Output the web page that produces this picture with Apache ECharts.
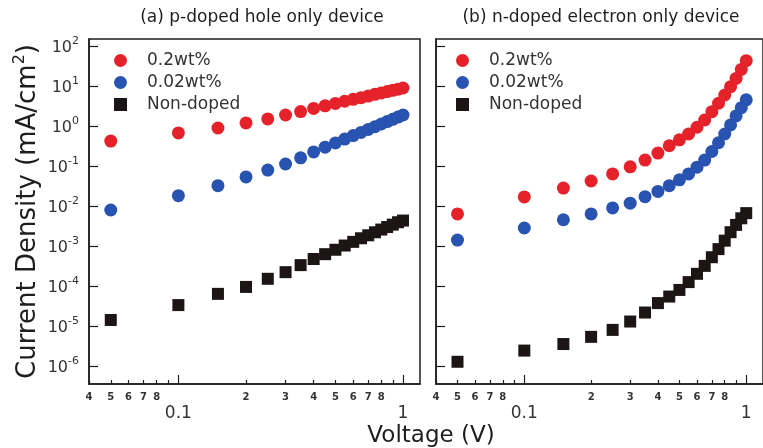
<!DOCTYPE html>
<html>
<head>
<meta charset="utf-8">
<script src="https://cdn.jsdelivr.net/npm/echarts@6/dist/echarts.min.js"></script>
<style>
html, body { margin: 0; padding: 0; background: #fff; }
#chart { width: 763px; height: 448px; }
</style>
</head>
<body>
<div id="chart"></div>
<script>
// 电压 (V)
var voltage = [0.05, 0.10, 0.15, 0.20, 0.25, 0.30, 0.35, 0.40, 0.45, 0.50,
               0.55, 0.60, 0.65, 0.70, 0.75, 0.80, 0.85, 0.90, 0.95, 1.00];

// (a) hole only device, mA/cm2
var holeHigh = [0.42, 0.67, 0.89, 1.19, 1.5, 1.88, 2.29, 2.75, 3.2, 3.67,
                4.15, 4.65, 5.1, 5.6, 6.2, 6.7, 7.25, 7.8, 8.3, 8.9];
var holeLow = [0.0079, 0.018, 0.032, 0.053, 0.079, 0.112, 0.16, 0.224, 0.295, 0.376,
               0.47, 0.575, 0.69, 0.82, 0.96, 1.12, 1.29, 1.47, 1.67, 1.88];
var holeUndoped = [1.4e-5, 3.3e-5, 6.3e-5, 9.4e-5, 1.5e-4, 2.2e-4, 3.3e-4, 4.7e-4, 6.2e-4, 8.0e-4,
                   1.02e-3, 1.26e-3, 1.55e-3, 1.84e-3, 2.19e-3, 2.56e-3, 2.96e-3, 3.4e-3, 3.9e-3, 4.3e-3];

// (b) electron only device, mA/cm2
var elecHigh = [0.0063, 0.0168, 0.028, 0.042, 0.063, 0.095, 0.14, 0.21, 0.32, 0.45,
                0.63, 0.93, 1.41, 2.28, 3.7, 5.96, 9.6, 15.5, 26, 43];
var elecLow = [0.0014, 0.0028, 0.0045, 0.0063, 0.0089, 0.0117, 0.017, 0.023, 0.032, 0.045,
               0.063, 0.093, 0.14, 0.23, 0.38, 0.63, 1.06, 1.78, 2.87, 4.5];
var elecUndoped = [1.26e-6, 2.4e-6, 3.5e-6, 5.3e-6, 7.9e-6, 1.28e-5, 2.15e-5, 3.7e-5, 5.4e-5, 7.9e-5,
                   1.24e-4, 2.0e-4, 3.16e-4, 5.2e-4, 8.3e-4, 1.35e-3, 2.2e-3, 3.35e-3, 4.9e-3, 6.6e-3];

var seriesNames = ['0.2wt%', '0.02wt%', 'Non-doped'];
var titles = ['(a) p-doped hole only device', '(b) n-doped electron only device'];

// 刻度
var minorTicks = [0.04, 0.05, 0.06, 0.07, 0.08, 0.09, 0.2, 0.3, 0.4, 0.5, 0.6, 0.7, 0.8, 0.9];
var minorLabels = [0.04, 0.05, 0.06, 0.07, 0.08, 0.2, 0.3, 0.4, 0.5, 0.6, 0.7, 0.8];
var majorTicks = [0.1, 1];
var yTicks = [1e-6, 1e-5, 1e-4, 1e-3, 1e-2, 1e-1, 1, 10, 100];

var FONT = 'DejaVu Sans';
var INK = '#1e1e1e';
var colors = ['#e5222a', '#2853b0', '#1c1515'];

function pairs(arr) {
    return voltage.map(function (v, i) { return [v, arr[i]]; });
}

function minorAxis(gridIndex) {
    return {
        type: 'log', gridIndex: gridIndex, min: 0.04, max: 1.19,
        axisLine: { lineStyle: { color: INK, width: 1.5 } },
        axisTick: { inside: true, length: 4, customValues: minorTicks, lineStyle: { color: INK, width: 1.2 } },
        axisLabel: {
            customValues: minorLabels, margin: 8, color: '#333', fontFamily: FONT, fontSize: 10, fontWeight: 'bold',
            formatter: function (v) { return String(v < 0.095 ? Math.round(v * 100) : Math.round(v * 10)); }
        },
        splitLine: { show: false }, minorTick: { show: false }
    };
}

function majorAxis(gridIndex) {
    return {
        type: 'log', gridIndex: gridIndex, min: 0.04, max: 1.19, position: 'bottom',
        axisLine: { show: false },
        axisTick: { inside: true, length: 9, customValues: majorTicks, lineStyle: { color: INK, width: 1.2 } },
        axisLabel: {
            customValues: majorTicks, margin: 21, color: '#333', fontFamily: FONT, fontSize: 17,
            formatter: function (v) { return v < 0.5 ? '0.1' : '1'; }
        },
        splitLine: { show: false }
    };
}

function yAxis(gridIndex, withLabels) {
    return {
        type: 'log', gridIndex: gridIndex, min: 3.5e-7, max: 150,
        axisLine: { lineStyle: { color: INK, width: 1.5 } },
        axisTick: { inside: true, length: 9, customValues: yTicks, lineStyle: { color: INK, width: 1.2 } },
        axisLabel: {
            show: withLabels, customValues: yTicks, margin: 10, color: '#333', fontFamily: FONT,
            formatter: function (v) { return '{b|10}{s|' + Math.round(Math.log10(v)) + '}'; },
            rich: {
                b: { fontSize: 16, fontFamily: FONT, color: '#333', lineHeight: 20, verticalAlign: 'bottom' },
                s: { fontSize: 11, fontFamily: FONT, color: '#333', lineHeight: 20, verticalAlign: 'top' }
            }
        },
        splitLine: { show: false },
        name: withLabels ? '{t|Current Density (mA/cm}{s|2}{t|)}' : '',
        nameLocation: 'middle', nameGap: 48, nameRotate: 90,
        nameTextStyle: {
            rich: {
                t: { fontSize: 26, fontFamily: FONT, color: INK, lineHeight: 29, verticalAlign: 'bottom' },
                s: { fontSize: 16, fontFamily: FONT, color: INK, lineHeight: 29, verticalAlign: 'top' }
            }
        }
    };
}

function scatter(name, arr, gridIndex, idx) {
    return {
        name: name, type: 'scatter',
        xAxisIndex: gridIndex * 2, yAxisIndex: gridIndex,
        symbol: idx === 2 ? 'rect' : 'circle',
        symbolSize: idx === 2 ? 12 : 13,
        itemStyle: { color: colors[idx], opacity: 1 },
        data: pairs(arr)
    };
}

function legend(left) {
    return {
        orient: 'vertical', left: left, top: 47, itemWidth: 13, itemHeight: 13, itemGap: 5,
        data: [
            { name: seriesNames[0], icon: 'circle' },
            { name: seriesNames[1], icon: 'circle' },
            { name: seriesNames[2], icon: 'rect' }
        ],
        itemStyle: { opacity: 1 },
        textStyle: { fontFamily: FONT, fontSize: 17, color: '#333', padding: [0, 0, 0, 15] },
        selectedMode: false
    };
}

var chart = echarts.init(document.getElementById('chart'), null, { renderer: 'canvas' });
chart.setOption({
    backgroundColor: '#fff',
    animation: false,
    title: [
        { text: titles[0], left: 257, top: 4, textAlign: 'center', textStyle: { fontFamily: FONT, fontSize: 17, fontWeight: 'normal', color: INK } },
        { text: titles[1], left: 596, top: 4, textAlign: 'center', textStyle: { fontFamily: FONT, fontSize: 17, fontWeight: 'normal', color: INK } }
    ],
    legend: [legend(109), legend(451)],
    grid: [
        { left: 89, top: 39, width: 331, height: 345, show: true, borderColor: INK, borderWidth: 1.5 },
        { left: 436, top: 39, width: 331, height: 345, show: true, borderColor: INK, borderWidth: 1.5 }
    ],
    xAxis: [minorAxis(0), majorAxis(0), minorAxis(1), majorAxis(1)],
    yAxis: [yAxis(0, true), yAxis(1, false)],
    graphic: [
        { type: 'text', x: 431, y: 436, style: { text: 'Voltage (V)', font: '23px "DejaVu Sans"', fill: INK, align: 'center', verticalAlign: 'middle' } }
    ],
    series: [
        scatter(seriesNames[0], holeHigh, 0, 0),
        scatter(seriesNames[1], holeLow, 0, 1),
        scatter(seriesNames[2], holeUndoped, 0, 2),
        scatter(seriesNames[0], elecHigh, 1, 0),
        scatter(seriesNames[1], elecLow, 1, 1),
        scatter(seriesNames[2], elecUndoped, 1, 2)
    ]
});
</script>
</body>
</html>
